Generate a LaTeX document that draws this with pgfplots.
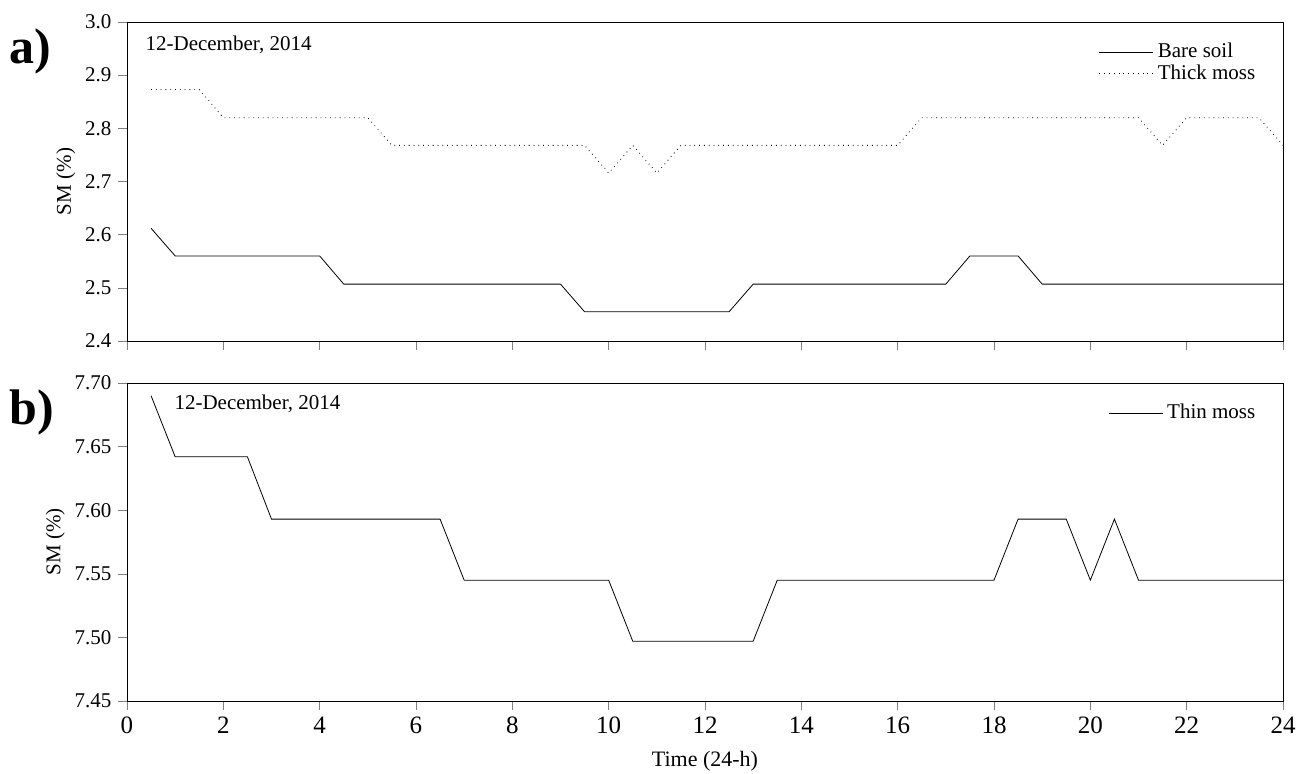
\documentclass[border=0pt]{standalone}
\usepackage{pgfplots}
\pgfplotsset{compat=1.18}
\usepackage{fontspec}
\setmainfont{Liberation Serif}
\begin{document}
\begin{tikzpicture}
\path[use as bounding box] (-63.5pt,-216pt) rectangle (590pt,170.5pt);
\pgfplotsset{every axis/.append style={scale only axis, width=578pt, xmin=0, xmax=24, xtick={0,2,...,24},
 tick align=outside, tick pos=left, font=\fontsize{10.5}{12}\selectfont,
 /pgf/number format/assume math mode=true,
 xticklabel style={font=\fontsize{12.5}{14}\selectfont},
 legend style={draw=none, fill=none, at={(0.985,0.96)}, anchor=north east, font=\fontsize{10.5}{12}\selectfont, row sep=-2pt},
 legend cell align=left,
 legend image code/.code={\draw[#1] (0,0) -- (0.95cm,0);},
 ylabel near ticks, ylabel style={yshift=-2pt}}}
\begin{axis}[name=top, at={(0,0)}, anchor=south west, height=159.5pt, ymin=2.4, ymax=3.0, ytick={2.4,2.5,...,3.0},
 yticklabel style={/pgf/number format/.cd, fixed, fixed zerofill, precision=1}, xticklabels={}, ylabel={SM (\%)}]
\addplot[black, thin] coordinates {(0.5,2.612)(1,2.56)(4,2.56)(4.5,2.507)(9,2.507)(9.5,2.455)(12.5,2.455)(13,2.507)(17,2.507)(17.5,2.56)(18.5,2.56)(19,2.507)(24,2.507)};
\addlegendentry{Bare soil}
\addplot[black, thin, dotted] coordinates {(0.5,2.873)(1.5,2.873)(2,2.82)(5,2.82)(5.5,2.768)(9.5,2.768)(10,2.716)(10.5,2.768)(11,2.716)(11.5,2.768)(16,2.768)(16.5,2.82)(21,2.82)(21.5,2.768)(22,2.82)(23.5,2.82)(24,2.768)};
\addlegendentry{Thick moss}
\node[anchor=north west, font=\fontsize{10.5}{12}\selectfont] at (rel axis cs:0.01,0.98) {12-December, 2014};
\end{axis}
\begin{axis}[name=bot, at={(0,-21pt)}, anchor=north west, height=159pt, ymin=7.45, ymax=7.70, ytick={7.45,7.50,...,7.70},
 yticklabel style={/pgf/number format/.cd, fixed, fixed zerofill, precision=2}, xlabel={Time (24-h)}, ylabel={SM (\%)},
 xlabel style={font=\fontsize{11}{13}\selectfont, yshift=-2pt}]
\addplot[black, thin] coordinates {(0.5,7.69)(1,7.642)(2.5,7.642)(3,7.593)(6.5,7.593)(7,7.545)(10,7.545)(10.5,7.497)(13,7.497)(13.5,7.545)(18,7.545)(18.5,7.593)(19.5,7.593)(20,7.545)(20.5,7.593)(21,7.545)(24,7.545)};
\addlegendentry{Thin moss}
\node[anchor=north west, font=\fontsize{10.5}{12}\selectfont] at (rel axis cs:0.035,0.985) {12-December, 2014};
\end{axis}
\node[anchor=north west, font=\fontsize{25}{27}\selectfont\bfseries, inner sep=0pt] at ([xshift=-59pt,yshift=-3pt]top.north west) {a)};
\node[anchor=north west, font=\fontsize{25}{27}\selectfont\bfseries, inner sep=0pt] at ([xshift=-59pt,yshift=-3pt]bot.north west) {b)};
\end{tikzpicture}
\end{document}
